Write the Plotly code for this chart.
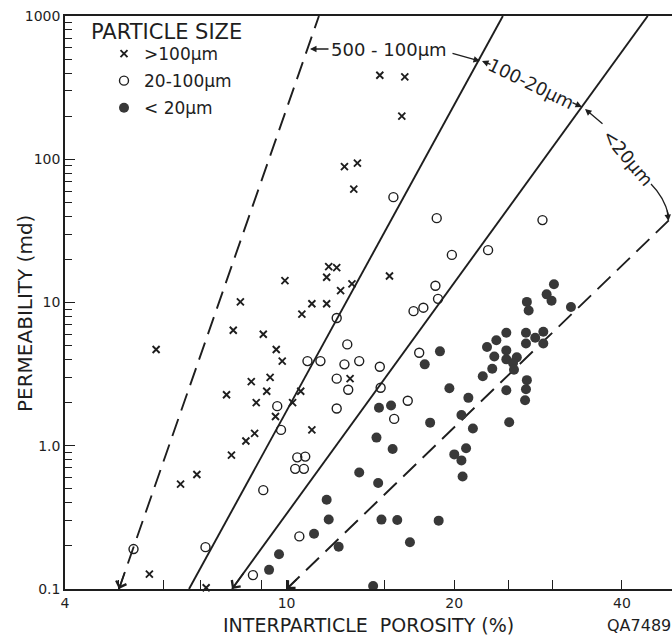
import math
import plotly.graph_objects as go

# ---------------- data ----------------
# particle size > 100 um  (x markers)
coarse_porosity = [14.7, 16.3, 16.1, 12.7, 13.4, 13.2, 11.9, 12.3, 11.8, 12.5, 13.1, 15.3,
                   9.93, 8.26, 11.1, 11.8, 10.65, 8.02, 9.08, 5.83, 9.58, 9.82, 8.64, 9.34,
                   9.21, 10.6, 7.80, 8.82, 10.25, 9.55, 8.45, 8.76, 7.96, 11.1, 6.90, 6.45,
                   5.67, 7.17, 13.0]
coarse_perm = [386, 376, 200, 88.8, 93.9, 61.8, 17.8, 17.5, 15.0, 12.1, 13.5, 15.3,
               14.2, 10.1, 9.8, 9.8, 8.3, 6.4, 6.0, 4.7, 4.7, 3.9, 2.8, 3.0,
               2.4, 2.4, 2.27, 2.0, 2.0, 1.6, 1.08, 1.22, 0.86, 1.29, 0.63, 0.54,
               0.127, 0.102, 2.94]

# particle size 20-100 um  (open circles)
medium_porosity = [15.55, 18.6, 28.8, 19.8, 23.0, 18.5, 18.7, 17.6, 16.9, 12.3, 12.85, 11.5,
                   10.9, 12.7, 13.5, 14.7, 17.3, 12.3, 12.9, 14.75, 16.5, 15.6, 12.3, 9.77,
                   9.62, 10.45, 10.8, 10.36, 10.74, 9.08, 10.54, 8.70, 5.31, 7.15]
medium_perm = [54.4, 38.8, 37.6, 21.5, 23.2, 13.1, 10.6, 9.2, 8.7, 7.8, 5.1, 3.9,
               3.9, 3.7, 3.9, 3.56, 4.46, 2.94, 2.46, 2.54, 2.06, 1.54, 1.82, 1.29,
               1.89, 0.83, 0.84, 0.69, 0.69, 0.49, 0.233, 0.125, 0.19, 0.196]

# particle size < 20 um  (filled circles)
fine_porosity = [30.2, 29.3, 29.9, 27.0, 27.2, 32.4, 24.8, 26.9, 27.95, 28.9, 26.9, 28.9,
                 23.8, 22.9, 24.8, 23.6, 24.8, 25.9, 25.5, 25.6, 23.4, 22.5, 27.0, 26.9,
                 24.8, 26.8, 19.6, 21.2, 25.1, 20.6, 21.6, 18.1, 18.85, 17.7, 14.65, 15.4,
                 14.5, 15.5, 13.5, 14.6, 20.0, 21.0, 20.6, 20.7, 14.8, 15.8, 18.75, 16.65,
                 12.4, 14.3, 11.8, 11.9, 11.2, 9.69, 9.30]
fine_perm = [13.4, 11.4, 10.3, 10.1, 8.8, 9.3, 6.15, 6.15, 5.67, 6.25, 5.18, 5.18,
             5.45, 4.89, 4.63, 4.2, 4.01, 4.14, 3.78, 3.39, 3.45, 3.06, 2.87, 2.48,
             2.44, 2.08, 2.52, 2.16, 1.46, 1.64, 1.32, 1.45, 4.56, 3.70, 1.84, 1.91,
             1.14, 0.95, 0.65, 0.55, 0.87, 0.96, 0.79, 0.61, 0.305, 0.303, 0.30, 0.212,
             0.197, 0.105, 0.42, 0.306, 0.243, 0.175, 0.136]

# boundary lines between particle-size fields (porosity %, permeability md)
boundary_x_start = [5.0, 6.68, 7.98, 10.0]
boundary_y_start = [0.1, 0.1, 0.1, 0.1]
boundary_x_end = [11.43, 24.45, 44.5, 48.6]
boundary_y_end = [1000, 1000, 1000, 37.6]
boundary_dashed = [True, False, False, True]
boundary_arrow = [True, False, True, True]

x_tick_vals = [4, 10, 20, 40]
x_tick_text = ["4", "10", "20", "40"]
x_minor_vals = [5, 6, 7, 8, 9, 15, 25, 30]
y_tick_vals = [0.1, 1, 10, 100, 1000]
y_tick_text = ["0.1", "1.0", "10", "100", "1000"]
y_minor_vals = [k * 10 ** e for e in range(-1, 3) for k in range(2, 10)]

legend_title = "PARTICLE SIZE"
series_names = [">100\u00b5m", "20-100\u00b5m", "< 20\u00b5m"]

# ---------------- styling ----------------
INK = "#1e1e1e"
FONT = "DejaVu Sans"
W, H = 672, 637
L, R, T, B = 65, 672, 16, 589   # plot area in pixels


def paper(px, py):
    return (px - L) / (R - L), (B - py) / (B - T)


fig = go.Figure()

# boundary lines
for x0, y0, x1, y1, dashed in zip(boundary_x_start, boundary_y_start,
                                  boundary_x_end, boundary_y_end, boundary_dashed):
    fig.add_trace(go.Scatter(
        x=[x0, x1], y=[y0, y1], mode="lines",
        line=dict(color=INK, width=1.9, dash="18px,9px" if dashed else "solid"),
        showlegend=False, hoverinfo="skip"))

fig.add_trace(go.Scatter(
    x=coarse_porosity, y=coarse_perm, mode="markers", name=series_names[0],
    marker=dict(symbol="x-thin", size=7, line=dict(width=1.9, color=INK), color=INK),
    cliponaxis=False))
fig.add_trace(go.Scatter(
    x=medium_porosity, y=medium_perm, mode="markers", name=series_names[1],
    marker=dict(symbol="circle-open", size=9, line=dict(width=1.4, color=INK), color=INK),
    cliponaxis=False))
fig.add_trace(go.Scatter(
    x=fine_porosity, y=fine_perm, mode="markers", name=series_names[2],
    marker=dict(symbol="circle", size=10, color="#383838", line=dict(width=0)),
    cliponaxis=False))

annotations = []

# arrowheads at lower ends of boundary lines
for x0, y0, x1, y1, has_arrow in zip(boundary_x_start, boundary_y_start,
                                     boundary_x_end, boundary_y_end, boundary_arrow):
    if not has_arrow:
        continue
    lx0, ly0, lx1, ly1 = map(math.log10, (x0, y0, x1, y1))
    t = 0.03
    annotations.append(dict(
        x=lx0, y=ly0, xref="x", yref="y",
        ax=lx0 + t * (lx1 - lx0), ay=ly0 + t * (ly1 - ly0), axref="x", ayref="y",
        text="", showarrow=True, arrowhead=4, arrowsize=1.4, arrowwidth=1.5,
        arrowcolor=INK, standoff=0, startstandoff=0))

# field labels
label_font = dict(family=FONT, size=18, color=INK)
for text, px, py, ang in [("500 - 100\u00b5m", 389, 50, 0),
                          ("100-20\u00b5m", 531, 83, 26),
                          ("<20\u00b5m", 628, 157, 50)]:
    xp, yp = paper(px, py)
    annotations.append(dict(x=xp, y=yp, xref="paper", yref="paper", text=text,
                            showarrow=False, textangle=ang, font=label_font,
                            xanchor="center", yanchor="middle"))

# connector arrows of the field labels (tip pixel, tail offset)
for tx, ty, ax, ay in [(310, 49, 20, 0), (480, 61, -29, -8), (482, 61, 10, 4),
                       (582, 107, -11, -5), (585, 109, 19, 16), (668.5, 221, -1.5, -12)]:
    xp, yp = paper(tx, ty)
    annotations.append(dict(x=xp, y=yp, xref="paper", yref="paper", text="",
                            showarrow=True, ax=ax, ay=ay, arrowhead=2, arrowsize=1,
                            arrowwidth=1.3, arrowcolor=INK, standoff=0))

# legend heading, axis titles and tag
tx, ty = paper(89, 32)
annotations.append(dict(x=tx, y=ty, xref="paper", yref="paper", text=legend_title,
                        showarrow=False, xanchor="left", yanchor="middle",
                        font=dict(family=FONT, size=21, color=INK)))
for text, px, py, ang, size in [("INTERPARTICLE  POROSITY (%)", 368, 625, 0, 19),
                                ("PERMEABILITY (md)", 25, 314, -90, 20),
                                ("QA7489", 639, 625, 0, 16)]:
    xp, yp = paper(px, py)
    annotations.append(dict(x=xp, y=yp, xref="paper", yref="paper", text=text,
                            showarrow=False, textangle=ang,
                            font=dict(family=FONT, size=size, color=INK),
                            xanchor="center", yanchor="middle"))

# curved part of the "<20um" connector
c0 = paper(651, 184)
c1 = paper(664, 197)
c2 = paper(668.5, 215)
shapes = [dict(type="path", xref="paper", yref="paper",
               path=f"M {c0[0]},{c0[1]} Q {c1[0]},{c1[1]} {c2[0]},{c2[1]}",
               line=dict(color=INK, width=1.3))]

lx, ly = paper(89, 36)
fig.update_layout(
    width=W, height=H,
    margin=dict(l=L, r=W - R, t=T, b=H - B, pad=0),
    paper_bgcolor="white", plot_bgcolor="white",
    font=dict(family=FONT, color=INK, size=14),
    showlegend=True,
    legend=dict(x=lx, y=ly, xanchor="left", yanchor="top",
                font=dict(family=FONT, size=17, color=INK),
                bgcolor="rgba(0,0,0,0)", indentation=15, tracegroupgap=2,
                traceorder="grouped"),
    xaxis=dict(type="log", range=[math.log10(4), math.log10(49.2)],
               showline=True, linecolor=INK, linewidth=1.5, mirror=True,
               showgrid=False, zeroline=False,
               ticks="inside", ticklen=9, tickwidth=1.3, tickcolor=INK,
               tickmode="array", tickvals=x_tick_vals, ticktext=x_tick_text,
               tickfont=dict(family=FONT, size=14, color=INK),
               minor=dict(tickmode="array", tickvals=x_minor_vals, ticks="inside",
                          ticklen=9, tickwidth=1.3, tickcolor=INK, showgrid=False)),
    yaxis=dict(type="log", range=[-1, 3],
               showline=True, linecolor=INK, linewidth=1.5, mirror=False,
               showgrid=False, zeroline=False,
               ticks="inside", ticklen=10, tickwidth=1.3, tickcolor=INK,
               tickmode="array", tickvals=y_tick_vals, ticktext=y_tick_text,
               tickfont=dict(family=FONT, size=14, color=INK),
               minor=dict(tickmode="array", tickvals=y_minor_vals, ticks="inside",
                          ticklen=7, tickwidth=1.2, tickcolor=INK, showgrid=False)),
    annotations=annotations,
    shapes=shapes,
)

for i, tr in enumerate(fig.data):
    tr.legendgroup = f"g{i}"

fig.write_html("out.html", config={"displayModeBar": False},
               post_script="document.body.style.margin='0';document.body.style.overflow='hidden';")
